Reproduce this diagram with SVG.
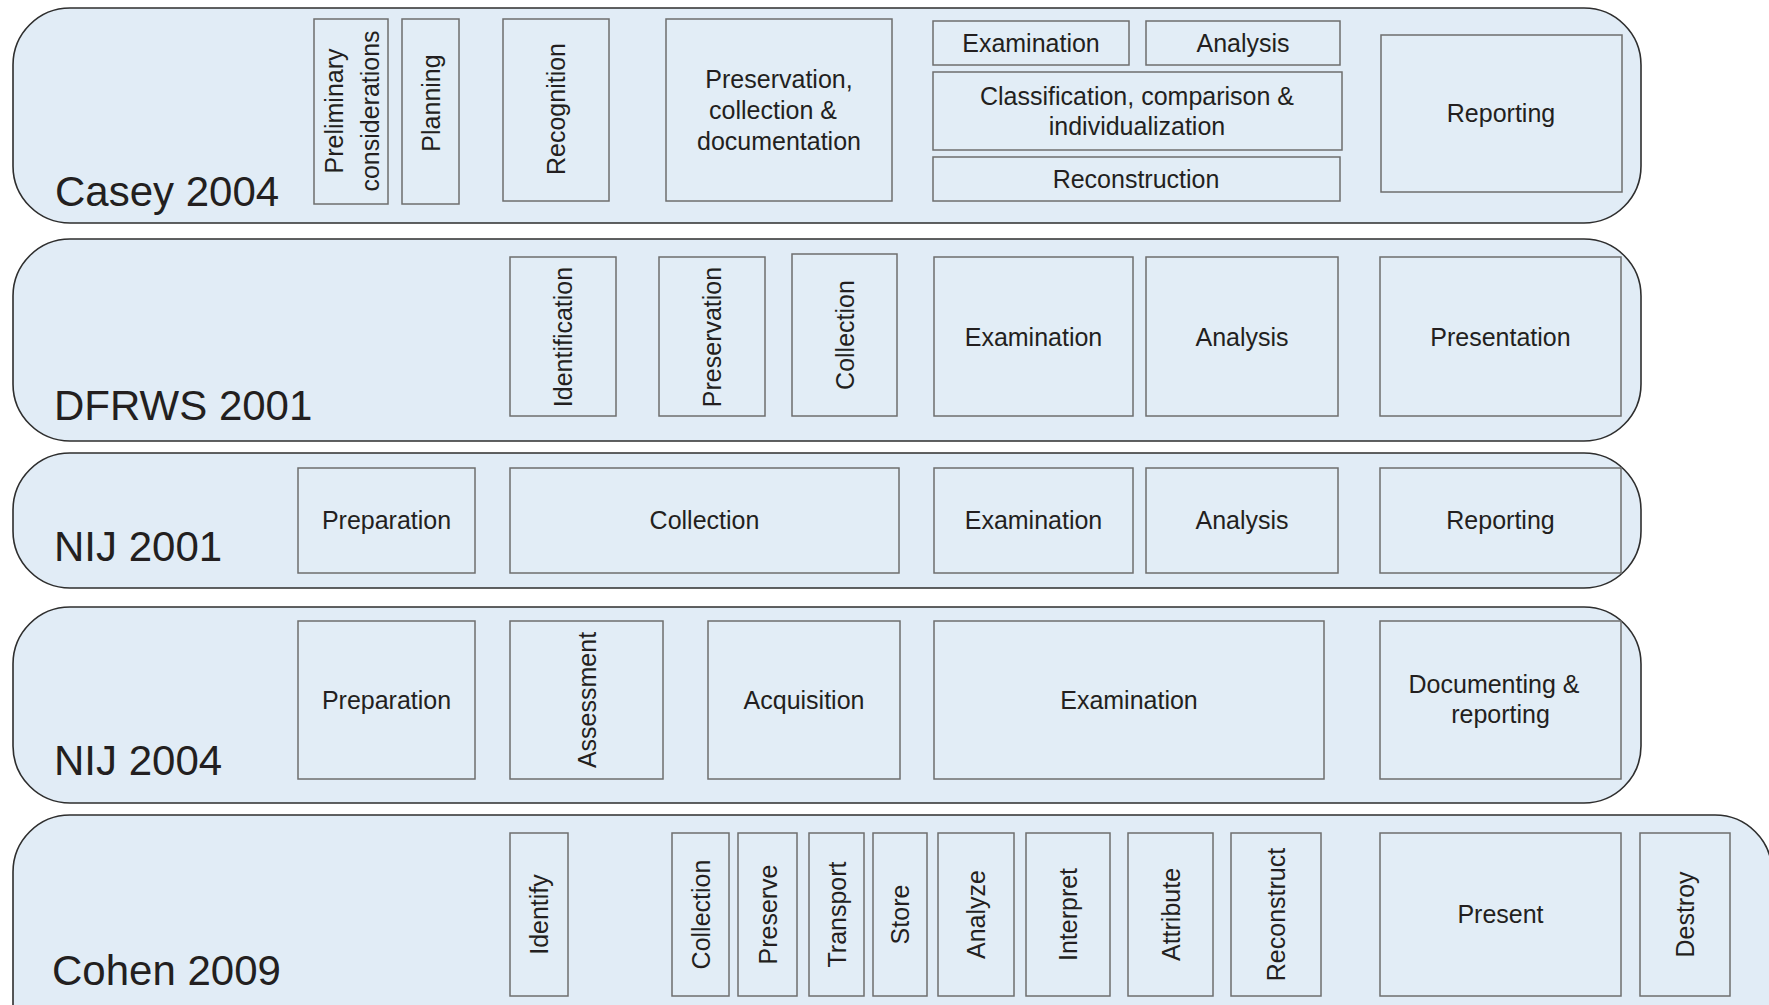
<svg xmlns="http://www.w3.org/2000/svg" width="1769" height="1005" viewBox="0 0 1769 1005">
<style>
.lane{fill:#e1ecf6;stroke:#2e2e2e;stroke-width:1.6}
.box{fill:#e2edf6;stroke:#6e6e6e;stroke-width:1.5}
.t{font-family:"Liberation Sans",Arial,Helvetica,sans-serif;font-size:25px;fill:#231f20;text-anchor:middle}
.lbl{font-family:"Liberation Sans",Arial,Helvetica,sans-serif;font-size:42px;fill:#231f20}
</style>
<rect x="0" y="0" width="1769" height="1005" fill="#ffffff"/>
<g id="lanes">
<g id="lane-casey"><rect class="lane" x="13" y="8" width="1628" height="215" rx="57" ry="57"/><text class="lbl" x="55" y="206">Casey 2004</text></g>
<g id="lane-dfrws"><rect class="lane" x="13" y="239" width="1628" height="202" rx="57" ry="57"/><text class="lbl" x="54" y="420">DFRWS 2001</text></g>
<g id="lane-nij2001"><rect class="lane" x="13" y="453" width="1628" height="135" rx="57" ry="57"/><text class="lbl" x="54" y="561">NIJ 2001</text></g>
<g id="lane-nij2004"><rect class="lane" x="13" y="607" width="1628" height="196" rx="57" ry="57"/><text class="lbl" x="54" y="775">NIJ 2004</text></g>
<g id="lane-cohen"><rect class="lane" x="13" y="815" width="1759" height="260" rx="57" ry="57"/><text class="lbl" x="52" y="985">Cohen 2009</text></g>
</g>
<g id="connectors"></g>
<g id="casey-nodes">
<g id="c-prelim"><rect class="box" x="314" y="19" width="74" height="185"/><text class="t" transform="translate(351,111) rotate(-90)"><tspan x="0" y="-8">Preliminary</tspan><tspan x="0" y="28">considerations</tspan></text></g>
<g id="c-planning"><rect class="box" x="402" y="19" width="57" height="185"/><text class="t" transform="translate(430.5,103) rotate(-90)" y="9">Planning</text></g>
<g id="c-recognition"><rect class="box" x="503" y="19" width="106" height="182"/><text class="t" transform="translate(556,109) rotate(-90)" y="9">Recognition</text></g>
<g id="c-preservation"><rect class="box" x="666" y="19" width="226" height="182"/><text class="t"><tspan x="779" y="88">Preservation,</tspan><tspan x="773" y="119">collection &amp;</tspan><tspan x="779" y="150">documentation</tspan></text></g>
<g id="c-examination"><rect class="box" x="933" y="21" width="196" height="44"/><text class="t" x="1031" y="52">Examination</text></g>
<g id="c-analysis"><rect class="box" x="1146" y="21" width="194" height="44"/><text class="t" x="1243" y="52">Analysis</text></g>
<g id="c-classification"><rect class="box" x="933" y="72" width="409" height="78"/><text class="t"><tspan x="1137" y="105">Classification, comparison &amp;</tspan><tspan x="1137" y="135">individualization</tspan></text></g>
<g id="c-reconstruction"><rect class="box" x="933" y="157" width="407" height="44"/><text class="t" x="1136" y="188">Reconstruction</text></g>
<g id="c-reporting"><rect class="box" x="1381" y="35" width="241" height="157"/><text class="t" x="1501" y="122">Reporting</text></g>
</g>
<g id="dfrws-nodes">
<g id="d-identification"><rect class="box" x="510" y="257" width="106" height="159"/><text class="t" transform="translate(563,337) rotate(-90)" y="9">Identification</text></g>
<g id="d-preservation"><rect class="box" x="659" y="257" width="106" height="159"/><text class="t" transform="translate(712,337) rotate(-90)" y="9">Preservation</text></g>
<g id="d-collection"><rect class="box" x="792" y="254" width="105" height="162"/><text class="t" transform="translate(844.5,335) rotate(-90)" y="9">Collection</text></g>
<g id="d-examination"><rect class="box" x="934" y="257" width="199" height="159"/><text class="t" x="1033.5" y="346">Examination</text></g>
<g id="d-analysis"><rect class="box" x="1146" y="257" width="192" height="159"/><text class="t" x="1242" y="346">Analysis</text></g>
<g id="d-presentation"><rect class="box" x="1380" y="257" width="241" height="159"/><text class="t" x="1500.5" y="346">Presentation</text></g>
</g>
<g id="nij2001-nodes">
<g id="n1-preparation"><rect class="box" x="298" y="468" width="177" height="105"/><text class="t" x="386.5" y="529">Preparation</text></g>
<g id="n1-collection"><rect class="box" x="510" y="468" width="389" height="105"/><text class="t" x="704.5" y="529">Collection</text></g>
<g id="n1-examination"><rect class="box" x="934" y="468" width="199" height="105"/><text class="t" x="1033.5" y="529">Examination</text></g>
<g id="n1-analysis"><rect class="box" x="1146" y="468" width="192" height="105"/><text class="t" x="1242" y="529">Analysis</text></g>
<g id="n1-reporting"><rect class="box" x="1380" y="468" width="241" height="105"/><text class="t" x="1500.5" y="529">Reporting</text></g>
</g>
<g id="nij2004-nodes">
<g id="n4-preparation"><rect class="box" x="298" y="621" width="177" height="158"/><text class="t" x="386.5" y="709">Preparation</text></g>
<g id="n4-assessment"><rect class="box" x="510" y="621" width="153" height="158"/><text class="t" transform="translate(586.5,700) rotate(-90)" y="9">Assessment</text></g>
<g id="n4-acquisition"><rect class="box" x="708" y="621" width="192" height="158"/><text class="t" x="804" y="709">Acquisition</text></g>
<g id="n4-examination"><rect class="box" x="934" y="621" width="390" height="158"/><text class="t" x="1129" y="709">Examination</text></g>
<g id="n4-documenting"><rect class="box" x="1380" y="621" width="241" height="158"/><text class="t"><tspan x="1494" y="693">Documenting &amp;</tspan><tspan x="1500.5" y="723">reporting</tspan></text></g>
</g>
<g id="cohen-nodes">
<g id="h-identify"><rect class="box" x="510" y="833" width="58" height="163"/><text class="t" transform="translate(539,914.5) rotate(-90)" y="9">Identify</text></g>
<g id="h-collection"><rect class="box" x="672" y="833" width="57" height="163"/><text class="t" transform="translate(700.5,914.5) rotate(-90)" y="9">Collection</text></g>
<g id="h-preserve"><rect class="box" x="738" y="833" width="59" height="163"/><text class="t" transform="translate(767.5,914.5) rotate(-90)" y="9">Preserve</text></g>
<g id="h-transport"><rect class="box" x="809" y="833" width="55" height="163"/><text class="t" transform="translate(836.5,914.5) rotate(-90)" y="9">Transport</text></g>
<g id="h-store"><rect class="box" x="873" y="833" width="54" height="163"/><text class="t" transform="translate(900,914.5) rotate(-90)" y="9">Store</text></g>
<g id="h-analyze"><rect class="box" x="938" y="833" width="76" height="163"/><text class="t" transform="translate(976,914.5) rotate(-90)" y="9">Analyze</text></g>
<g id="h-interpret"><rect class="box" x="1026" y="833" width="84" height="163"/><text class="t" transform="translate(1068,914.5) rotate(-90)" y="9">Interpret</text></g>
<g id="h-attribute"><rect class="box" x="1128" y="833" width="85" height="163"/><text class="t" transform="translate(1170.5,914.5) rotate(-90)" y="9">Attribute</text></g>
<g id="h-reconstruct"><rect class="box" x="1231" y="833" width="90" height="163"/><text class="t" transform="translate(1276,914.5) rotate(-90)" y="9">Reconstruct</text></g>
<g id="h-present"><rect class="box" x="1380" y="833" width="241" height="163"/><text class="t" x="1500.5" y="923">Present</text></g>
<g id="h-destroy"><rect class="box" x="1640" y="833" width="90" height="163"/><text class="t" transform="translate(1685,914.5) rotate(-90)" y="9">Destroy</text></g>
</g>
</svg>
